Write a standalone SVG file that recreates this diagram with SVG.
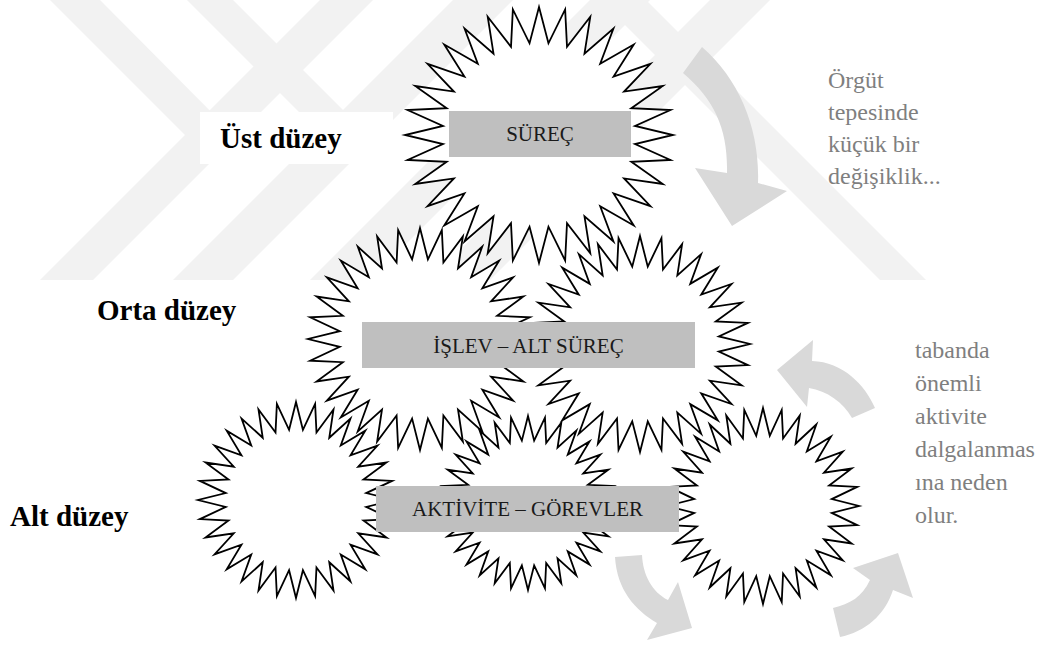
<svg xmlns="http://www.w3.org/2000/svg" xmlns:xlink="http://www.w3.org/1999/xlink" width="1049" height="645" viewBox="0 0 1049 645">
  <style>
    .wm { fill: #f2f2f2; }
    .arrow { fill: #d9d9d9; }
    .star { fill: none; stroke: #000; stroke-width: 1.8; stroke-linejoin: miter; stroke-miterlimit: 10; }
    .star-bg { fill: #fff; stroke: none; }
    .box { fill: #bfbfbf; }
    .box-text { font-family: "Liberation Serif", "Times New Roman", serif; font-size: 21px; fill: #1a1a1a; text-anchor: middle; }
    .level { font-family: "Liberation Serif", "Times New Roman", serif; font-size: 29px; font-weight: bold; fill: #000; }
    .note { font-family: "Liberation Serif", "Times New Roman", serif; font-size: 24px; fill: #7f7f7f; }
  </style>
  <defs>
    <!-- 32-point star, outer radius 100, inner radius 72 -->
    <polygon id="star32" vector-effect="non-scaling-stroke" points="0,-100 7.06,-71.65 19.51,-98.08 20.9,-68.9 38.27,-92.39 33.94,-63.5 55.56,-83.15 45.68,-55.66 70.71,-70.71 55.66,-45.68 83.15,-55.56 63.5,-33.94 92.39,-38.27 68.9,-20.9 98.08,-19.51 71.65,-7.06 100,0 71.65,7.06 98.08,19.51 68.9,20.9 92.39,38.27 63.5,33.94 83.15,55.56 55.66,45.68 70.71,70.71 45.68,55.66 55.56,83.15 33.94,63.5 38.27,92.39 20.9,68.9 19.51,98.08 7.06,71.65 0,100 -7.06,71.65 -19.51,98.08 -20.9,68.9 -38.27,92.39 -33.94,63.5 -55.56,83.15 -45.68,55.66 -70.71,70.71 -55.66,45.68 -83.15,55.56 -63.5,33.94 -92.39,38.27 -68.9,20.9 -98.08,19.51 -71.65,7.06 -100,0 -71.65,-7.06 -98.08,-19.51 -68.9,-20.9 -92.39,-38.27 -63.5,-33.94 -83.15,-55.56 -55.66,-45.68 -70.71,-70.71 -45.68,-55.66 -55.56,-83.15 -33.94,-63.5 -38.27,-92.39 -20.9,-68.9 -19.51,-98.08 -7.06,-71.65"/>
  </defs>

  <rect width="1049" height="645" fill="#fff"/>

  <!-- pale background emblem -->
  <g id="emblem">
    <polygon class="wm" points="40,280 93,280 373,0 320,0"/>
    <polygon class="wm" points="50,0 100,0 236,137 211,161"/>
    <polygon class="wm" points="173,280 233,280 513,0 453,0"/>
    <polygon class="wm" points="187,0 233,0 373,140 350,163"/>
    <polygon class="wm" points="310,280 370,280 650,0 590,0"/>
    <polygon class="wm" points="600,0 646,0 926,280 880,280"/>
    <polygon class="wm" points="430,280 490,280 770,0 710,0"/>
  </g>

  <!-- level captions -->
  <g id="label-ust">
    <rect x="200" y="112" width="193" height="52" fill="#fff"/>
    <text class="level" x="220" y="148">Üst düzey</text>
  </g>
  <g id="label-orta">
    <text class="level" x="97" y="320">Orta düzey</text>
  </g>
  <g id="label-alt">
    <text class="level" x="10" y="526">Alt düzey</text>
  </g>

  <!-- curved block arrows -->
  <g id="connectors">
    <path class="arrow" d="M683,73 L702,47 C740,80 760,130 758,183 L787,191 L732,226 L695,168 L727,173 C728,130 715,100 683,73 Z"/>
    <path class="arrow" d="M852,418 L875,408 C865,385 843,362 812,361 L813,340 L777,370 L807,407 L809,388 C827,391 843,402 852,418 Z"/>
    <path class="arrow" d="M615,557 L642,555 C643,575 652,592 668,600 L678,582 L692,628 L647,640 L657,623 C635,610 617,590 615,557 Z"/>
    <path class="arrow" d="M833,608 C850,604 862,597 870,580 L853,568 L898,553 L913,598 L893,590 C885,615 865,632 840,637 Z"/>
  </g>

  <!-- white interiors of the stars -->
  <g id="star-fills">
    <use xlink:href="#star32" class="star-bg" transform="translate(539 135) scale(1.34 1.28)"/>
    <use xlink:href="#star32" class="star-bg" transform="translate(420 339) scale(1.12 1.11)"/>
    <use xlink:href="#star32" class="star-bg" transform="translate(640 344) scale(1.1 1.08)"/>
    <use xlink:href="#star32" class="star-bg" transform="translate(296 500) scale(0.98 0.98)"/>
    <use xlink:href="#star32" class="star-bg" transform="translate(528 503) scale(0.87 0.87)"/>
    <use xlink:href="#star32" class="star-bg" transform="translate(763 506) scale(0.96 0.98)"/>
  </g>

  <g id="star-top">
    <use xlink:href="#star32" class="star" transform="translate(539 135) scale(1.34 1.28)"/>
    <rect class="box" x="449" y="111" width="182" height="46"/>
    <text class="box-text" x="540" y="141">SÜREÇ</text>
  </g>
  <g id="star-mid-left">
    <use xlink:href="#star32" class="star" transform="translate(420 339) scale(1.12 1.11)"/>
  </g>
  <g id="star-mid-right">
    <use xlink:href="#star32" class="star" transform="translate(640 344) scale(1.1 1.08)"/>
  </g>
  <g id="star-low-left">
    <use xlink:href="#star32" class="star" transform="translate(296 500) scale(0.98 0.98)"/>
  </g>
  <g id="star-low-mid">
    <use xlink:href="#star32" class="star" transform="translate(528 503) scale(0.87 0.87)"/>
  </g>
  <g id="star-low-right">
    <use xlink:href="#star32" class="star" transform="translate(763 506) scale(0.96 0.98)"/>
  </g>

  <g id="box-islev">
    <rect class="box" x="362" y="322" width="333" height="46"/>
    <text class="box-text" x="528.5" y="353">İŞLEV – ALT SÜREÇ</text>
  </g>
  <g id="box-aktivite">
    <rect class="box" x="376" y="486" width="303" height="46"/>
    <text class="box-text" x="527.5" y="516">AKTİVİTE – GÖREVLER</text>
  </g>

  <!-- side notes -->
  <g id="note-top">
    <text class="note" x="828" y="88">Örgüt</text>
    <text class="note" x="828" y="120">tepesinde</text>
    <text class="note" x="828" y="152">küçük bir</text>
    <text class="note" x="828" y="184">değişiklik...</text>
  </g>
  <g id="note-bottom">
    <text class="note" x="915" y="358">tabanda</text>
    <text class="note" x="915" y="391">önemli</text>
    <text class="note" x="915" y="424">aktivite</text>
    <text class="note" x="915" y="457">dalgalanmas</text>
    <text class="note" x="915" y="490">ına neden</text>
    <text class="note" x="915" y="523">olur.</text>
  </g>
</svg>
